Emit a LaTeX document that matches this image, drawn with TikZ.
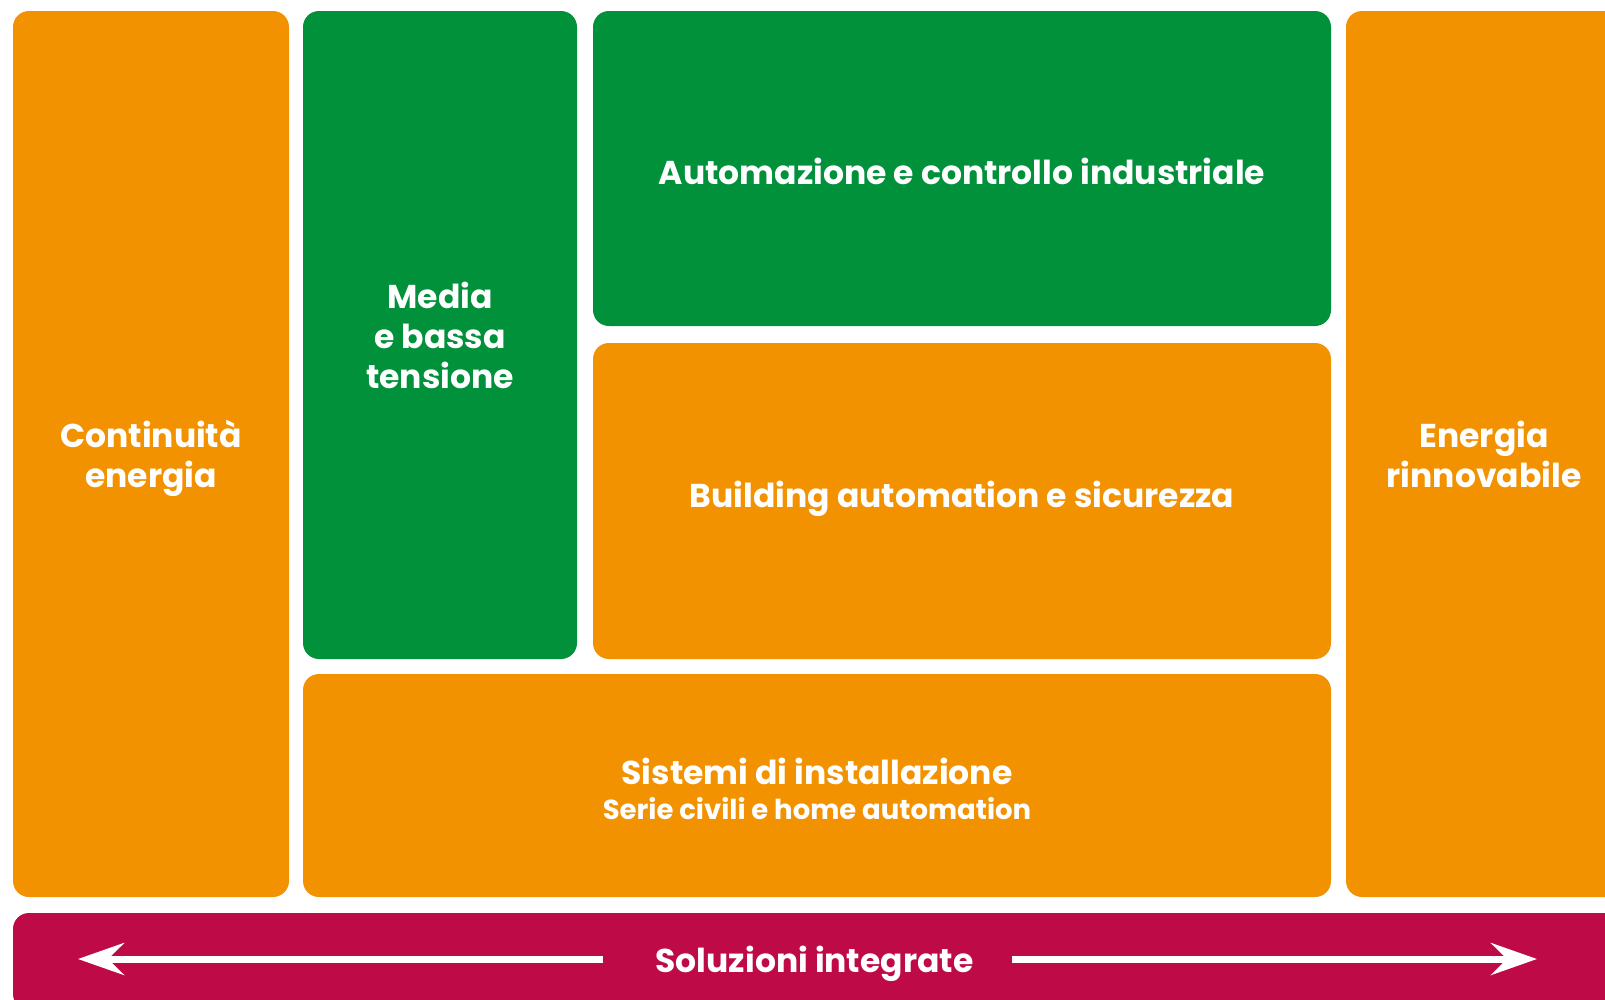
\documentclass[tikz,border=0pt]{standalone}
\usepackage{fontspec}
\setmainfont{Poppins}
\usetikzlibrary{arrows.meta}
\newcommand\subtitlefont{\fontsize{27.5}{32}\selectfont}

\begin{document}
\begin{tikzpicture}
		[x=1pt,y=-1pt,line cap=butt,
		%Styles
		tile/.style={rounded corners=16pt,inner sep=0pt,align=center,text=white,text depth=0pt,font=\bfseries\fontsize{33}{40}\selectfont},
		orange tile/.style={tile,fill=tileorange},
		green tile/.style={tile,fill=tilegreen},
		bar label/.style={text=white,inner sep=0pt,anchor=base,font=\bfseries\fontsize{33}{40}\selectfont},
		arrow line/.style={white,line width=7pt,-{Stealth[length=46pt,width=32pt,inset=16pt]}}
		]
		
		%Colors
		\colorlet{tileorange}{rgb,255:red,243;green,146;blue,0}
		\colorlet{tilegreen}{rgb,255:red,0;green,145;blue,58}
		\colorlet{barred}{rgb,255:red,190;green,10;blue,70}
		
		\useasboundingbox (0,0) rectangle (1605,999);
		
		%The tiles
		\node[orange tile,minimum width=276pt,minimum height=886pt] (continuita) at (151,454) {Continuità\\energia};
		\node[green tile,minimum width=274pt,minimum height=648pt] (media) at (440,335) {Media\\e bassa\\tensione};
		\node[green tile,text height=31.5pt,minimum width=738pt,minimum height=315pt] (automazione) at (962,168.5) {Automazione e controllo industriale};
		\node[orange tile,text depth=14pt,minimum width=738pt,minimum height=316pt] (building) at (962,501) {Building automation e sicurezza};
		\node[orange tile,text height=67pt,minimum width=1028pt,minimum height=223pt] (sistemi) at (817,785.5) {Sistemi di installazione\\[-5pt]{\subtitlefont Serie civili e home automation}};
		\node[orange tile,minimum width=276pt,minimum height=886pt] (rinnovabile) at (1484,454) {Energia\\rinnovabile};
		
		%The bar
		\node[tile,fill=barred,minimum width=1609pt,minimum height=97pt] (bar) at (817.5,961.5) {};
		\node[bar label] (soluzioni) at (814.5,972) {Soluzioni integrate};
		\coordinate (left tip) at (78,959);
		\coordinate (right tip) at (1537,959);
		\draw[arrow line] ([xshift=-52pt]soluzioni.west |- left tip) -- (left tip);
		\draw[arrow line] ([xshift=38pt]soluzioni.east |- right tip) -- (right tip);
	\end{tikzpicture}
\end{document}
